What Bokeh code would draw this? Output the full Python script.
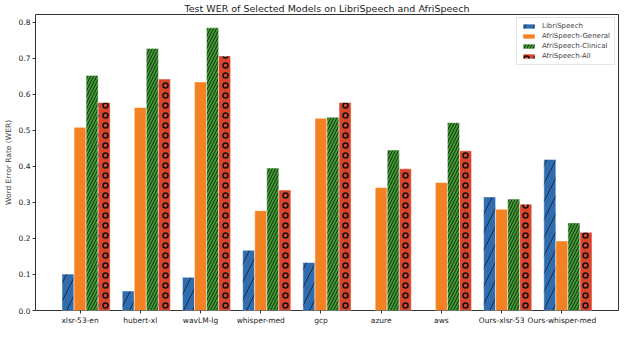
import math
from bokeh.plotting import figure
from bokeh.models import Range1d, FixedTicker, ColumnDataSource, Legend, LegendItem
from bokeh.embed import file_html
from bokeh.resources import INLINE

models = ["xlsr-53-en", "hubert-xl", "wavLM-lg", "whisper-med", "gcp", "azure", "aws",
          "Ours-xlsr-53", "Ours-whisper-med"]
libri = [0.101, 0.054, 0.092, 0.167, 0.133, float("nan"), float("nan"), 0.315, 0.419]
general = [0.508, 0.563, 0.634, 0.277, 0.533, 0.341, 0.355, 0.281, 0.193]
clinical = [0.652, 0.727, 0.784, 0.395, 0.536, 0.445, 0.521, 0.309, 0.243]
afri_all = [0.577, 0.642, 0.706, 0.334, 0.577, 0.393, 0.443, 0.295, 0.217]
series_names = ["LibriSpeech", "AfriSpeech-General", "AfriSpeech-Clinical", "AfriSpeech-All"]
y_ticks = [0.0, 0.1, 0.2, 0.3, 0.4, 0.5, 0.6, 0.7, 0.8]

FONT = "DejaVu Sans"
bar_w = 0.2
offsets = [-0.2, 0.0, 0.2, 0.4]
colors = ["#2f6cb0", "#f58222", "#3c9a2e", "#d9442b"]
hatches = [dict(hatch_pattern="right_diagonal_line", hatch_scale=18, hatch_weight=1, hatch_color="#1a2a40"),
           dict(hatch_pattern="blank"),
           dict(hatch_pattern="right_diagonal_line", hatch_scale=6, hatch_weight=0.8, hatch_color="#111111"),
           dict(hatch_pattern="ring", hatch_scale=10, hatch_weight=1.5, hatch_color="#111111")]

p = figure(width=622, height=327, output_backend="svg", toolbar_location=None,
           x_range=Range1d(-0.74, 8.94), y_range=Range1d(0, 0.821),
           min_border_left=28, min_border_right=4, min_border_top=0, min_border_bottom=0)

p.title.text = "Test WER of Selected Models on LibriSpeech and AfriSpeech"
p.title.align = "center"
p.title.text_font = FONT
p.title.text_font_size = "9.5px"
p.title.text_font_style = "normal"
p.title.text_color = "#222222"
p.title.standoff = 1
p.title.offset = 0

p.xgrid.visible = False
p.ygrid.visible = False
p.outline_line_color = "#333333"
p.outline_line_width = 1

xs = list(range(len(models)))
items = []
for k, (name, vals) in enumerate(zip(series_names, [libri, general, clinical, afri_all])):
    xk = [x + offsets[k] for x, v in zip(xs, vals) if not math.isnan(v)]
    vk = [v for v in vals if not math.isnan(v)]
    src = ColumnDataSource(dict(x=xk, top=vk))
    r = p.vbar(x="x", top="top", width=bar_w, source=src, fill_color=colors[k],
               line_color="white", line_width=0.5, **hatches[k])
    items.append(LegendItem(label=name, renderers=[r]))

legend = Legend(items=items, location="top_right")
legend.label_text_font = FONT
legend.label_text_font_size = "7px"
legend.label_height = 8
legend.glyph_height = 6
legend.glyph_width = 15
legend.spacing = 2
legend.padding = 4
legend.margin = 3
legend.border_line_color = "#cccccc"
legend.border_line_width = 1
legend.label_standoff = 6
p.add_layout(legend)

p.xaxis.ticker = FixedTicker(ticks=xs)
p.xaxis.major_label_overrides = {i: m for i, m in enumerate(models)}
p.yaxis.ticker = FixedTicker(ticks=y_ticks)
p.yaxis.major_label_overrides = {t: f"{t:.1f}" for t in y_ticks}
for ax in (p.xaxis, p.yaxis):
    ax.major_label_text_font = FONT
    ax.major_label_text_font_size = "7.5px"
    ax.major_label_text_color = "#222222"
    ax.major_tick_out = 3
    ax.major_tick_in = 0
    ax.minor_tick_out = 0
    ax.minor_tick_in = 0
    ax.axis_line_color = None
    ax.major_tick_line_color = "#333333"
    ax.major_label_standoff = 2
p.yaxis.axis_label = "Word Error Rate (WER)"
p.yaxis.axis_label_text_font = FONT
p.yaxis.axis_label_text_font_size = "7.5px"
p.yaxis.axis_label_text_font_style = "normal"
p.yaxis.axis_label_standoff = 3

open("out.html", "w").write(file_html(p, INLINE))
